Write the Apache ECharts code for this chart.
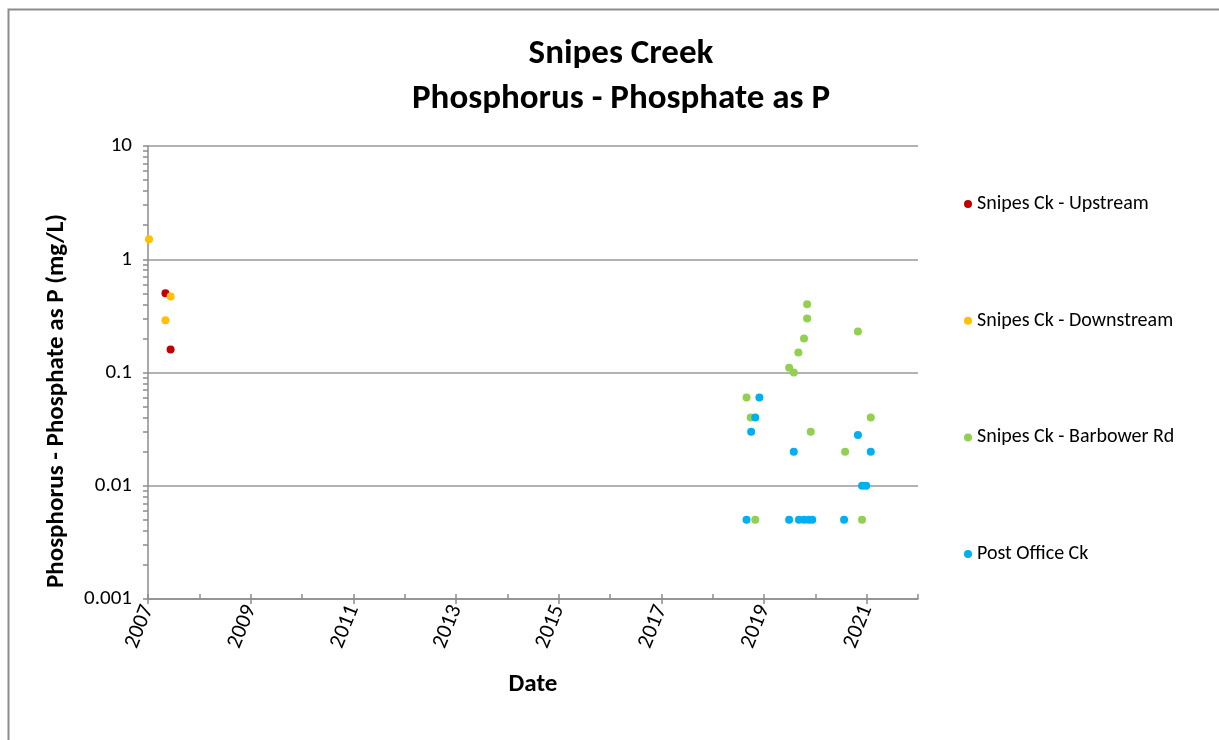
<!DOCTYPE html>
<html>
<head>
<meta charset="utf-8">
<script src="https://cdn.jsdelivr.net/npm/echarts@6/dist/echarts.min.js"></script>
<style>html,body{margin:0;padding:0;background:#fff}#c{width:1219px;height:740px}</style>
</head>
<body>
<div id="c"></div>
<script>
// ---- data (decimal year, mg/L) ----
const upstreamX = [2007.34, 2007.44];
const upstreamY = [0.5, 0.16];
const downstreamX = [2007.02, 2007.34, 2007.44];
const downstreamY = [1.5, 0.29, 0.47];
const barbowerX = [2018.66, 2018.74, 2018.83, 2019.49, 2019.58, 2019.67, 2019.78, 2019.84, 2019.84, 2019.91, 2020.58, 2020.83, 2020.91, 2021.08];
const barbowerY = [0.06, 0.04, 0.005, 0.11, 0.10, 0.15, 0.20, 0.40, 0.30, 0.03, 0.02, 0.23, 0.005, 0.04];
const postOfficeX = [2018.66, 2018.75, 2018.83, 2018.91, 2019.49, 2019.58, 2019.68, 2019.78, 2019.87, 2019.94, 2020.56, 2020.83, 2020.91, 2020.99, 2021.08];
const postOfficeY = [0.005, 0.03, 0.04, 0.06, 0.005, 0.02, 0.005, 0.005, 0.005, 0.005, 0.005, 0.028, 0.01, 0.01, 0.02];

const seriesNames = ['Snipes Ck - Upstream', 'Snipes Ck - Downstream', 'Snipes Ck - Barbower Rd', 'Post Office Ck'];
const seriesColors = ['#C00000', '#FFC000', '#92D050', '#00B0F0'];

const xTickLabels = [2007, 2009, 2011, 2013, 2015, 2017, 2019, 2021];
const xMinorTicks = [2007, 2008, 2009, 2010, 2011, 2012, 2013, 2014, 2015, 2016, 2017, 2018, 2019, 2020, 2021, 2022];
const yTickLabels = [0.001, 0.01, 0.1, 1, 10];
const yMinorMultipliers = [1, 2, 3, 4, 5, 6, 7, 8, 9];

const titleText = 'Snipes Creek\nPhosphorus - Phosphate as P';
const yTitle = 'Phosphorus - Phosphate as P (mg/L)';
const xTitle = 'Date';

const FONT = 'Carlito, Lato, "Liberation Sans", sans-serif';
const AXIS_COLOR = '#8c8c8c';

const yTicks = [];
for (let d = 0; d < yTickLabels.length - 1; d++) {
  for (const m of yMinorMultipliers) yTicks.push(+(yTickLabels[d] * m).toPrecision(6));
}
yTicks.push(yTickLabels[yTickLabels.length - 1]);

function pairs(xs, ys) { return xs.map((x, i) => [x, ys[i]]); }
const allX = [upstreamX, downstreamX, barbowerX, postOfficeX];
const allY = [upstreamY, downstreamY, barbowerY, postOfficeY];

const chart = echarts.init(document.getElementById('c'), null, {renderer: 'canvas'});
chart.setOption({
  backgroundColor: '#fff',
  animation: false,
  title: {
    text: titleText,
    left: 621, top: 32, textAlign: 'center', padding: 0,
    textStyle: {fontFamily: FONT, fontSize: 35, fontWeight: 'bold', color: '#000', lineHeight: 45}
  },
  legend: {
    orient: 'vertical', left: 964, top: 192, itemGap: 92.7, padding: 0,
    itemWidth: 8, itemHeight: 8, icon: 'circle',
    textStyle: {fontFamily: FONT, fontSize: 20, color: '#000', lineHeight: 24},
    data: seriesNames
  },
  grid: {left: 148, top: 146, width: 770, height: 453, containLabel: false},
  xAxis: [{
    type: 'value', min: 2007, max: 2022,
    name: xTitle, nameLocation: 'middle', nameGap: 73,
    nameTextStyle: {fontFamily: FONT, fontSize: 25, fontWeight: 'bold', color: '#000'},
    axisLine: {show: true, lineStyle: {color: AXIS_COLOR, width: 1.5}},
    axisTick: {show: true, length: 5, lineStyle: {color: AXIS_COLOR, width: 1.5}, customValues: xTickLabels},
    axisLabel: {customValues: xTickLabels, rotate: 68, margin: 7, fontFamily: FONT, fontSize: 22, color: '#000', formatter: v => String(v)},
    splitLine: {show: false}
  }, {
    type: 'value', min: 2007, max: 2022, position: 'bottom',
    axisLine: {show: false},
    axisTick: {show: true, inside: true, length: 5, lineStyle: {color: AXIS_COLOR, width: 1.5}, customValues: xMinorTicks},
    axisLabel: {show: false},
    splitLine: {show: false}
  }],
  yAxis: [{
    type: 'log', logBase: 10, min: 0.001, max: 10,
    axisLine: {show: true, lineStyle: {color: AXIS_COLOR, width: 1.5}},
    axisTick: {show: false},
    axisLabel: {customValues: yTickLabels, margin: 16, fontFamily: FONT, fontSize: 21, color: '#000', formatter: v => String(+(+v).toPrecision(6))},
    splitLine: {show: true, lineStyle: {color: '#999', width: 1.5}}
  }, {
    type: 'log', logBase: 10, min: 0.001, max: 10, position: 'left',
    axisLine: {show: false},
    axisTick: {show: true, length: 5, lineStyle: {color: AXIS_COLOR, width: 1.5}, customValues: yTicks},
    axisLabel: {show: false},
    splitLine: {show: false}
  }],
  graphic: [{
    type: 'rect', silent: true, z: -1,
    shape: {x: 8.5, y: 9.5, width: 1300, height: 900},
    style: {fill: 'none', stroke: '#8c8c8c', lineWidth: 2}
  }, {
    type: 'text', x: 57, y: 401, rotation: Math.PI / 2,
    style: {text: yTitle, fontFamily: FONT, fontSize: 25, fontWeight: 'bold', fill: '#000', textAlign: 'center', textVerticalAlign: 'middle'}
  }],
  series: seriesNames.map((name, i) => ({
    name: name, type: 'scatter', symbol: 'circle', symbolSize: 8,
    xAxisIndex: 0, yAxisIndex: 0,
    itemStyle: {color: seriesColors[i], opacity: 1},
    data: pairs(allX[i], allY[i])
  }))
});
</script>
</body>
</html>
